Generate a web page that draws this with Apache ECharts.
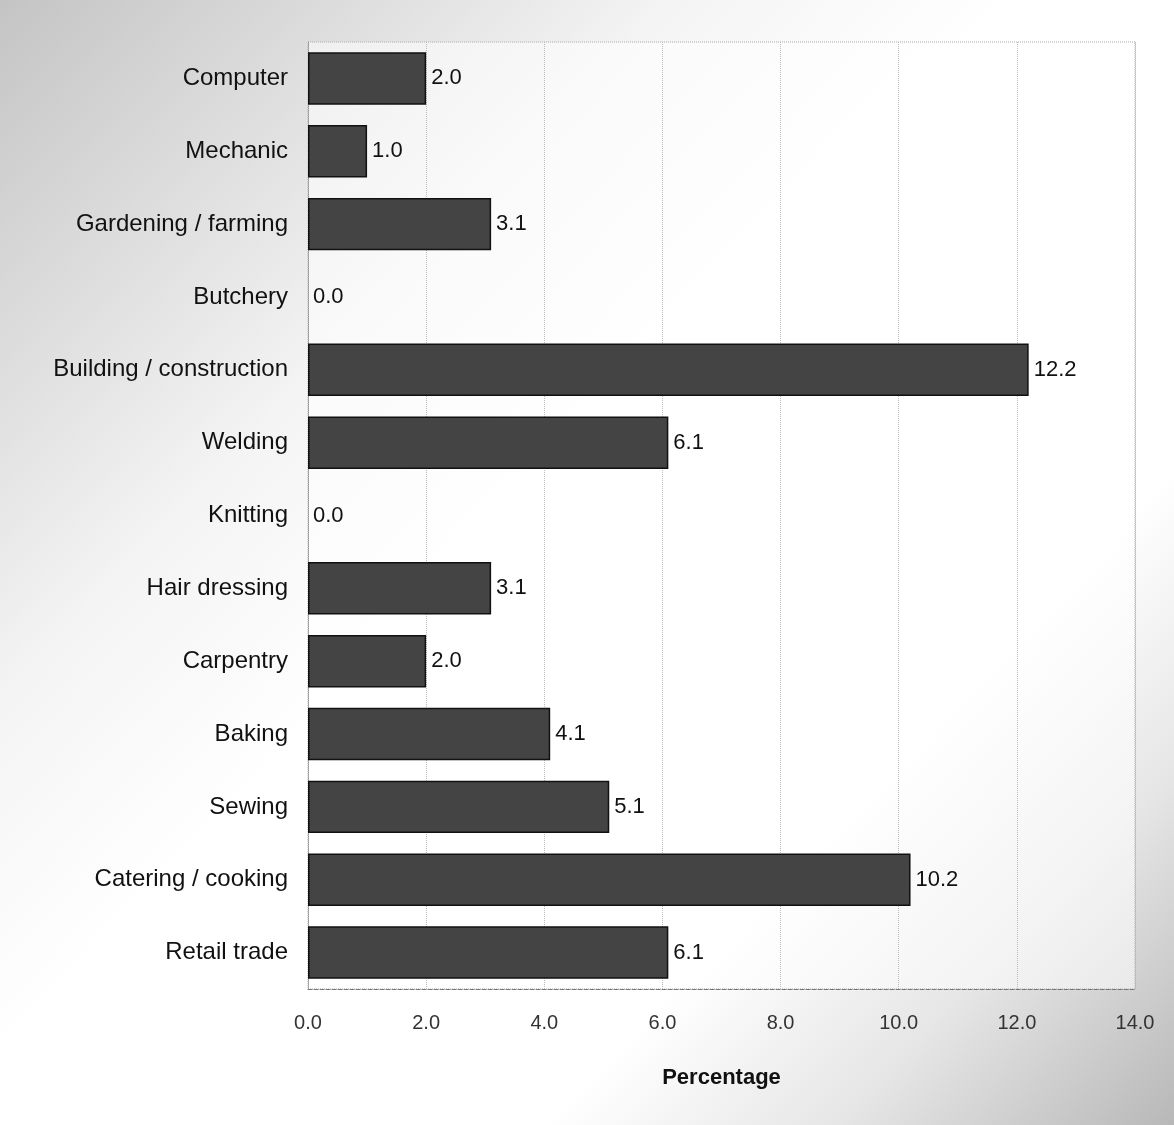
<!DOCTYPE html>
<html>
<head>
<meta charset="utf-8">
<script src="https://cdn.jsdelivr.net/npm/echarts@6/dist/echarts.min.js"></script>
<style>
  html, body { margin: 0; padding: 0; background: #fff; }
  #bar-chart { width: 1174px; height: 1125px; }
</style>
</head>
<body>
<div id="bar-chart"></div>
<script>
var categories = [
  "Computer",
  "Mechanic",
  "Gardening / farming",
  "Butchery",
  "Building / construction",
  "Welding",
  "Knitting",
  "Hair dressing",
  "Carpentry",
  "Baking",
  "Sewing",
  "Catering / cooking",
  "Retail trade",
];
var percentages = [2.0, 1.0, 3.1, 0.0, 12.2, 6.1, 0.0, 3.1, 2.0, 4.1, 5.1, 10.2, 6.1];
var xTicks = [0, 2, 4, 6, 8, 10, 12, 14];

function renderBarChart() {
  var chartDom = document.getElementById("bar-chart");
  var myChart = echarts.init(chartDom);
  var option;

  // zero bars get no outline, otherwise a thin stub shows on the axis
  var barData = percentages.map(function (v) {
    return v === 0 ? { value: v, itemStyle: { borderWidth: 0 } } : v;
  });

  option = {
    // scanned page: grey tone top-left and bottom-right
    backgroundColor: {
      type: "linear",
      x: 0,
      y: 0,
      x2: 1,
      y2: 1,
      colorStops: [
        { offset: 0, color: "#c4c4c4" },
        { offset: 0.3, color: "#f4f4f4" },
        { offset: 0.45, color: "#ffffff" },
        { offset: 0.72, color: "#ffffff" },
        { offset: 0.85, color: "#e6e6e6" },
        { offset: 1, color: "#b8b8b8" },
      ],
    },
    textStyle: { fontFamily: "Liberation Sans, Arial, sans-serif" },
    grid: {
      left: 308,
      right: 39,
      top: 42,
      bottom: 136,
      show: true,
      backgroundColor: "rgba(255,255,255,0.55)",
      borderColor: "#aaaaaa",
      borderWidth: 1,
      borderType: "dotted",
    },
    xAxis: {
      type: "value",
      min: xTicks[0],
      max: xTicks[xTicks.length - 1],
      interval: 2,
      name: "Percentage",
      nameLocation: "middle",
      nameGap: 78,
      nameTextStyle: { fontSize: 22, fontWeight: "bold", color: "#111" },
      axisLine: { show: true, lineStyle: { color: "#777", type: "dashed" } },
      axisTick: { show: false },
      axisLabel: {
        fontSize: 20,
        color: "#333",
        margin: 24,
        formatter: function (v) {
          return v.toFixed(1);
        },
      },
      splitLine: {
        show: true,
        lineStyle: { color: "#bbbbbb", type: "dotted" },
      },
    },
    yAxis: {
      type: "category",
      data: categories,
      inverse: true,
      axisLine: { show: true, lineStyle: { color: "#999", type: "dotted" } },
      axisTick: { show: false },
      axisLabel: { fontSize: 24, color: "#111", margin: 20 },
    },
    series: [
      {
        name: "Percentage",
        type: "bar",
        data: barData,
        barWidth: "72%",
        itemStyle: {
          color: "#444444",
          borderColor: "#111",
          borderWidth: 1.5,
        },
        label: {
          show: true,
          position: "right",
          distance: 5,
          fontSize: 22,
          color: "#111",
          formatter: function (p) {
            return p.value.toFixed(1);
          },
        },
      },
    ],
  };

  option && myChart.setOption(option);
}
renderBarChart();
</script>
</body>
</html>
